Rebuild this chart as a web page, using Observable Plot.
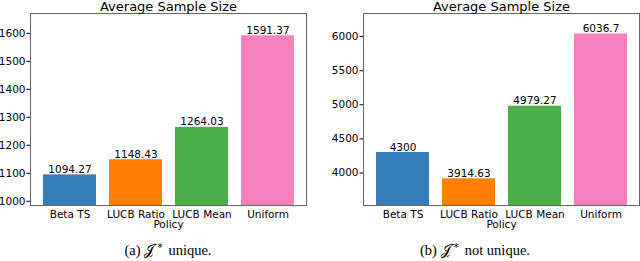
<!DOCTYPE html>
<html>
<head>
<meta charset="utf-8">
<script src="https://cdn.jsdelivr.net/npm/d3@7"></script>
<script src="https://cdn.jsdelivr.net/npm/@observablehq/plot@0.6"></script>
<style>
  html, body { margin: 0; padding: 0; background: #fff; }
  #wrap { position: relative; width: 640px; height: 261px; overflow: hidden; }
  .panel { position: absolute; top: 0; }
  .cap { position: absolute; top: 242px; width: 320px; text-align: center; line-height: 17px;
         font-family: "Liberation Serif", "DejaVu Serif", serif; font-size: 14.5px; color: #000; white-space: nowrap; z-index: 2; }
  .cap .j { font-family: "DejaVu Serif", serif; font-style: normal; }
  .cap .s { display: inline-block; position: relative; top: -4px; font-family: "DejaVu Sans", sans-serif; font-size: 11px; margin-left: 3px; margin-right: 2px; color: #000; }
</style>
</head>
<body>
<div id="wrap"></div>
<script>
const policies = ["Beta TS", "LUCB Ratio", "LUCB Mean", "Uniform"];
const colors = ["#377eb8", "#ff7f00", "#4daf4a", "#f781bf"];
const valuesA = [1094.27, 1148.43, 1264.03, 1591.37];
const labelsA = ["1094.27", "1148.43", "1264.03", "1591.37"];
const ticksA = [1000, 1100, 1200, 1300, 1400, 1500, 1600];
const valuesB = [4300, 3914.63, 4979.27, 6036.7];
const labelsB = ["4300", "3914.63", "4979.27", "6036.7"];
const ticksB = [4000, 4500, 5000, 5500, 6000];
const titleText = "Average Sample Size";
const xLabel = "Policy";

function panel(values, labels, ticks, marginLeft, marginRight) {
  const data = policies.map((p, i) => ({policy: p, value: values[i], label: labels[i]}));
  const lo = d3.min(values) * 0.9, hi = d3.max(values) * 1.05;
  return Plot.plot({
    width: 320,
    height: 234,
    marginTop: 13,
    marginBottom: 29,
    marginLeft,
    marginRight,
    style: {fontFamily: "DejaVu Sans, sans-serif", fontSize: "10.5px", color: "#000", background: "#fff"},
    x: {domain: policies, paddingInner: 0.2, paddingOuter: 0.19},
    y: {domain: [lo, hi]},
    color: {domain: policies, range: colors},
    marks: [
      Plot.barY(data, {x: "policy", y1: lo, y2: "value", fill: "policy"}),
      Plot.text(data, {x: "policy", y: "value", text: "label", dy: -2, lineAnchor: "bottom", fontSize: 10.5, fill: "#000"}),
      Plot.frame({stroke: "#666"}),
      Plot.axisY({ticks, tickSize: 3.5, tickPadding: 1.5, label: null, tickFormat: d => String(d), fontSize: 10.5}),
      Plot.axisX({tickSize: 0, tickPadding: 5, label: xLabel, labelAnchor: "center", labelArrow: "none", labelOffset: 22, fontSize: 10.5}),
      Plot.text([titleText], {frameAnchor: "top", text: d => d, dy: -3, lineAnchor: "bottom", fontSize: 13, fill: "#000"})
    ]
  });
}

const wrap = document.getElementById("wrap");
const pA = panel(valuesA, labelsA, ticksA, 30, 14);
const pB = panel(valuesB, labelsB, ticksB, 43, 1);
const dA = document.createElement("div"); dA.className = "panel"; dA.style.left = "0px"; dA.appendChild(pA);
const dB = document.createElement("div"); dB.className = "panel"; dB.style.left = "320px"; dB.appendChild(pB);
wrap.appendChild(dA); wrap.appendChild(dB);

const captions = [["(a)", "unique.", 0, 28], ["(b)", "not unique.", 320, 15]];
for (const [tag, rest, left, shift] of captions) {
  const c = document.createElement("div");
  c.className = "cap";
  c.style.left = (left + shift - 20) + "px";
  c.innerHTML = tag + " <span class=\"j\">\u{1D4A5}</span><span class=\"s\">*</span> " + rest;
  wrap.appendChild(c);
}
</script>
</body>
</html>
